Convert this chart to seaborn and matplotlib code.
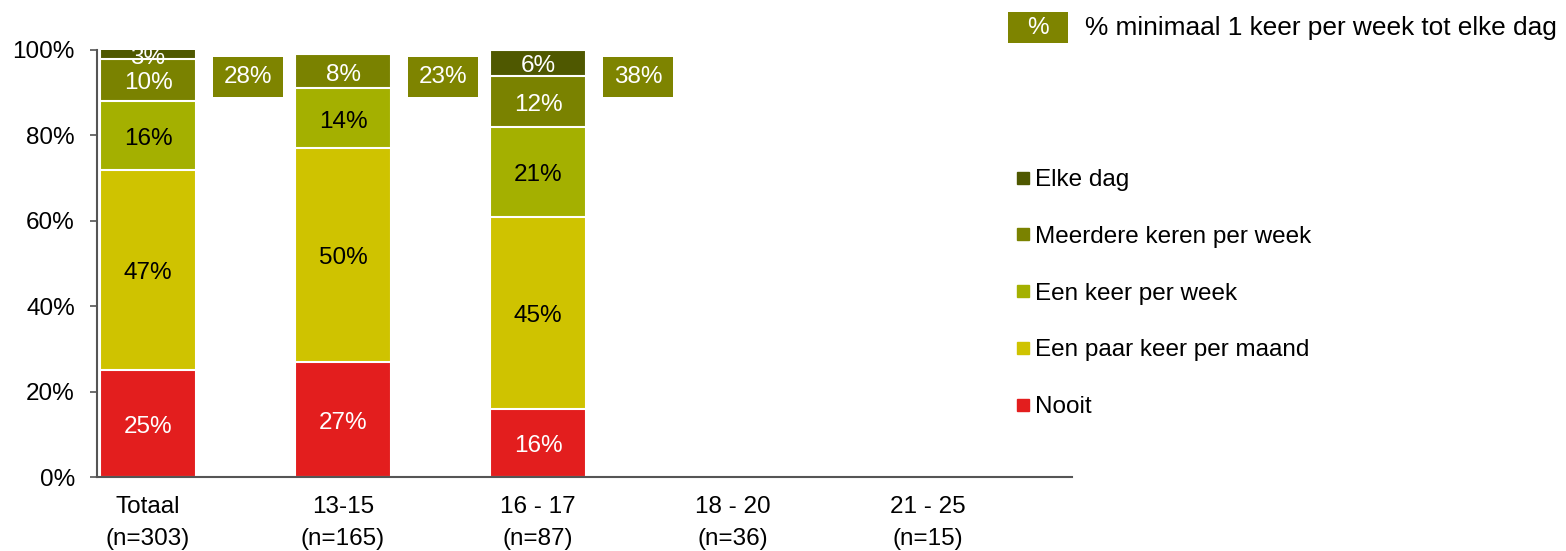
import numpy as np
import pandas as pd
import matplotlib
matplotlib.use("Agg")
import matplotlib.pyplot as plt
from matplotlib.lines import Line2D
from matplotlib.patches import Rectangle
import seaborn as sns

categories = ["Totaal\n(n=303)", "13-15\n(n=165)", "16 - 17\n(n=87)", "18 - 20\n(n=36)", "21 - 25\n(n=15)"]
series = ["Nooit", "Een paar keer per maand", "Een keer per week", "Meerdere keren per week", "Elke dag"]
nooit = [25, 27, 16, np.nan, np.nan]
paar_keer = [47, 50, 45, np.nan, np.nan]
een_keer = [16, 14, 21, np.nan, np.nan]
meerdere = [10, 8, 12, np.nan, np.nan]
elke_dag = [3, 0, 6, np.nan, np.nan]
min_week = [28, 23, 38, None, None]
colors = ["#E31E1E", "#CFC300", "#A4B000", "#7A8200", "#4F5800"]
text_colors = ["white", "black", "black", "white", "white"]
box_color = "#7E8400"
FS = 17.5

sns.set_theme(style="white")
plt.rcParams["font.family"] = ["Liberation Sans", "DejaVu Sans"]

values = [nooit, paar_keer, een_keer, meerdere, elke_dag]
vals = np.array(values, dtype=float)
cum = np.nancumsum(vals, axis=0)
cum[np.isnan(vals)] = np.nan

W, H = 1566, 551
fig = plt.figure(figsize=(W / 100, H / 100), dpi=100)
ax = fig.add_axes([97 / W, 1 - 477 / H, (1072 - 97) / W, (477 - 50) / H])

for i in reversed(range(len(series))):
    df = pd.DataFrame({"cat": categories, "val": np.where(vals[i] > 0, cum[i], np.nan)})
    sns.barplot(data=df, x="cat", y="val", order=categories, color=colors[i],
                width=0.49, edgecolor="white", linewidth=1.5, ax=ax, saturation=1)

ax.set_ylim(0, 100)
ax.set_xlim(-51 / 195, (1072 - 148) / 195)

for j in range(len(categories)):
    for i in range(len(series)):
        v = vals[i, j]
        if np.isnan(v) or v < 2:
            continue
        top = min(cum[i, j], 100)
        bot = cum[i, j] - v
        yc = (bot + top) / 2 - 0.8
        ax.text(j, yc, f"{int(v)}%", ha="center", va="center", fontsize=FS,
                color=text_colors[i])
    if min_week[j] is not None:
        xc, yc = j + 100 / 195, 93.7
        bw, bh = 70 / 195, 40 / 427 * 100
        ax.add_patch(Rectangle((xc - bw / 2, yc - bh / 2), bw, bh, facecolor=box_color,
                               edgecolor="none", clip_on=False, zorder=3))
        ax.text(xc, yc, f"{min_week[j]}%", ha="center", va="center",
                fontsize=FS, color="white", zorder=4)

ax.set_xlabel("")
ax.set_ylabel("")
ax.set_yticks([0, 20, 40, 60, 80, 100])
ax.set_yticklabels([f"{t}%" for t in [0, 20, 40, 60, 80, 100]], fontsize=FS)
ax.tick_params(axis="y", which="both", left=True, length=5, width=1.2, color="#555555", pad=11,
               labelcolor="black")
ax.tick_params(axis="x", labelsize=FS, length=0, pad=14, labelcolor="black")
for lab in ax.get_xticklabels():
    lab.set_linespacing(1.55)
for s in ["top", "right"]:
    ax.spines[s].set_visible(False)
for s in ["left", "bottom"]:
    ax.spines[s].set_color("#555555")
    ax.spines[s].set_linewidth(1.5)

handles = [Line2D([0], [0], marker="s", linestyle="none", markersize=8.5,
                  markerfacecolor=colors[i], markeredgecolor=colors[i]) for i in reversed(range(len(series)))]
labels = [series[i] for i in reversed(range(len(series)))]
leg = fig.legend(handles, labels, loc="upper left", bbox_to_anchor=(1013 / W, 1 - 169 / H),
                 frameon=False, fontsize=17.5, labelspacing=1.43, handletextpad=0.1, handlelength=0.8,
                 borderaxespad=0, borderpad=0)
for t in leg.get_texts():
    t.set_color("black")

fig.add_artist(Rectangle((1008 / W, 1 - 43 / H), 60 / W, 31 / H, facecolor=box_color,
                         edgecolor="none", transform=fig.transFigure))
fig.text(1038 / W, 1 - 27.5 / H, "%", ha="center", va="center", fontsize=FS, color="white")
fig.text(1085 / W, 1 - 28 / H, "% minimaal 1 keer per week tot elke dag", ha="left",
         va="center", fontsize=18.9, color="black")

fig.savefig("out.png", dpi=100)
